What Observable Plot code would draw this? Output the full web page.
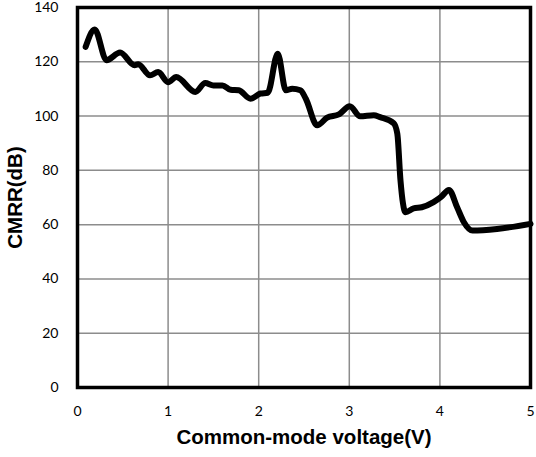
<!DOCTYPE html>
<html>
<head>
<meta charset="utf-8">
<script src="https://cdn.jsdelivr.net/npm/d3@7"></script>
<script src="https://cdn.jsdelivr.net/npm/@observablehq/plot@0.6"></script>
<style>
  html, body { margin: 0; padding: 0; background: #fff; }
  #chart svg { display: block; }
</style>
</head>
<body>
<div id="chart"></div>
<script>
// CMRR measured against common-mode input voltage
const voltage = [0.09, 0.19, 0.32, 0.47, 0.63, 0.67, 0.80, 0.89, 1.00, 1.09,
  1.30, 1.41, 1.50, 1.60, 1.69, 1.78, 1.91, 2.02, 2.10, 2.21,
  2.30, 2.37, 2.46, 2.52, 2.645, 2.755, 2.885, 3.005, 3.12, 3.27,
  3.34, 3.49, 3.53, 3.565, 3.62, 3.71, 3.80, 3.93, 4.01, 4.10,
  4.19, 4.265, 4.36, 4.63, 5.0];
const cmrr = [125.5, 131.9, 120.6, 123.4, 118.7, 119.1, 115.0, 116.2, 112.5, 114.4,
  108.9, 112.2, 111.3, 111.3, 109.7, 109.5, 106.4, 108.3, 108.6, 123.0,
  109.5, 110.1, 109.5, 106.4, 96.6, 99.4, 100.6, 103.6, 99.9, 100.3,
  99.6, 97.4, 93.5, 76.3, 64.6, 66.0, 66.4, 68.3, 70.1, 72.8,
  66.4, 60.9, 57.8, 58.4, 60.3];

const xTicks = [0, 1, 2, 3, 4, 5];
const yTicks = [0, 20, 40, 60, 80, 100, 120, 140];
const xGrid = [1, 2, 3, 4];
const yGrid = [20, 40, 60, 80, 100, 120];

const xTitle = "Common-mode voltage(V)";
const yTitle = "CMRR(dB)";

const points = voltage.map((v, i) => ({v, c: cmrr[i]}));

const chart = Plot.plot({
  width: 536,
  height: 457,
  marginLeft: 77,
  marginRight: 6,
  marginTop: 7,
  marginBottom: 70,
  style: {fontFamily: "Lato, sans-serif", fontSize: "14px", color: "#000", background: "#fff"},
  x: {domain: [0, 5]},
  y: {domain: [0, 140]},
  marks: [
    Plot.gridX(xGrid, {stroke: "#8c8c8c", strokeOpacity: 1, strokeWidth: 1.5}),
    Plot.gridY(yGrid, {stroke: "#8c8c8c", strokeOpacity: 1, strokeWidth: 1.5}),
    Plot.axisX(xTicks, {tickSize: 0, tickPadding: 19, label: null, fontSize: 14}),
    Plot.axisY(yTicks, {tickSize: 0, tickPadding: 19, label: null, fontSize: 14}),
    Plot.line(points, {
      x: "v", y: "c",
      curve: "monotone-x",
      stroke: "black",
      strokeWidth: 6,
      strokeLinecap: "round",
      strokeLinejoin: "round"
    }),
    Plot.frame({stroke: "black", strokeWidth: 3.5}),
    Plot.text([xTitle], {
      frameAnchor: "bottom", dy: 56, textAnchor: "middle",
      fontFamily: "Liberation Sans, Arial, sans-serif",
      fontWeight: "bold", fontSize: 20.5, fill: "black"
    }),
    Plot.text([yTitle], {
      frameAnchor: "left", dx: -62, rotate: -90, textAnchor: "middle",
      fontFamily: "Liberation Sans, Arial, sans-serif",
      fontWeight: "bold", fontSize: 20.5, fill: "black"
    })
  ]
});

document.getElementById("chart").appendChild(chart);
</script>
</body>
</html>
